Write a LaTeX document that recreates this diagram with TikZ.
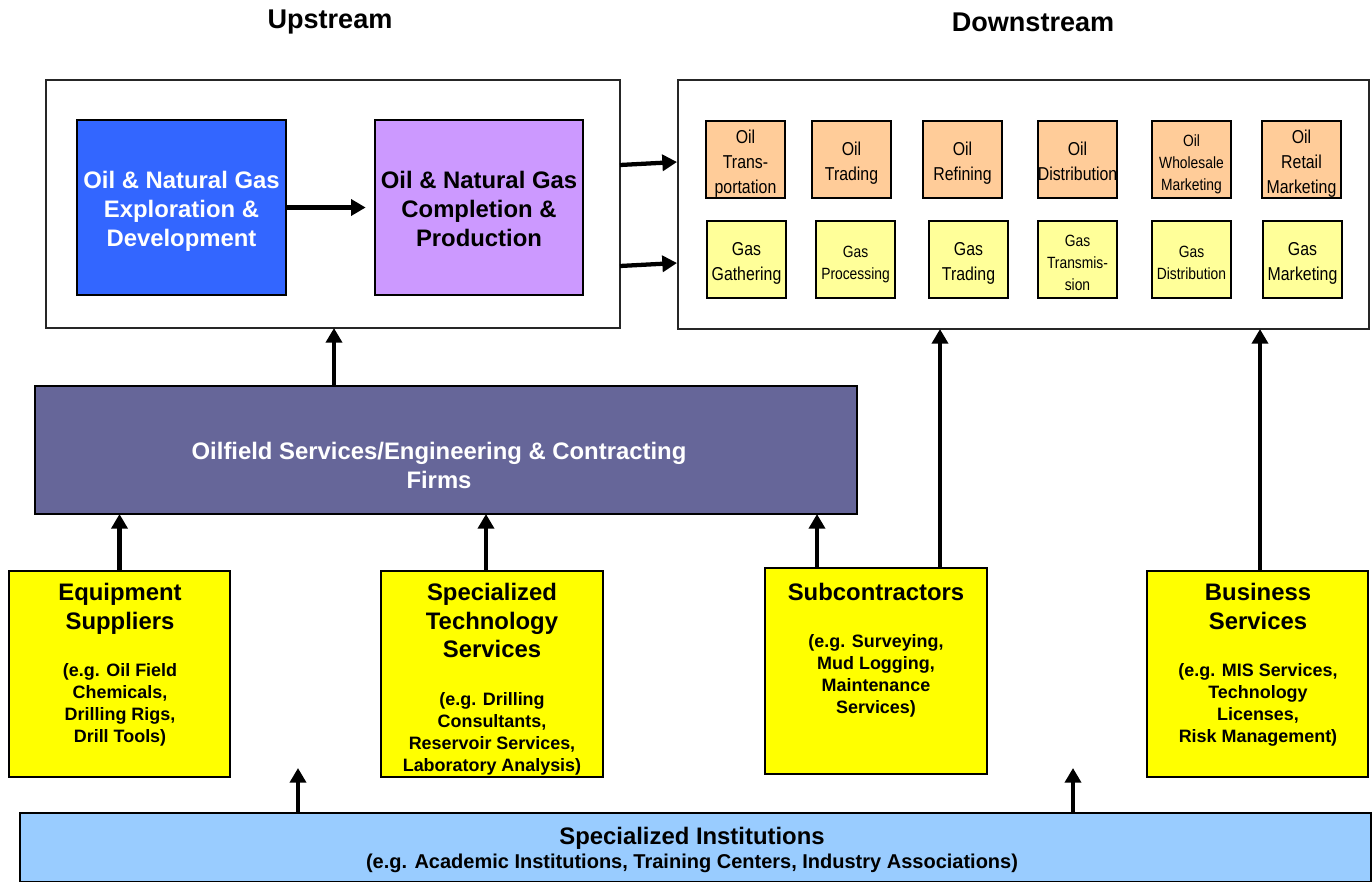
\documentclass[tikz,border=0pt]{standalone}
\usepackage{fontspec}
\setmainfont{Liberation Sans}
\newfontfamily\narrowfont[FakeStretch=0.85]{Liberation Sans}
\usetikzlibrary{arrows.meta,calc}
\definecolor{cblue}{HTML}{3366FF}
\definecolor{cpurple}{HTML}{CC99FF}
\definecolor{corange}{HTML}{FFCC99}
\definecolor{clighty}{HTML}{FFFF99}
\definecolor{cyellow}{HTML}{FFFF00}
\definecolor{csvc}{HTML}{666699}
\definecolor{cinst}{HTML}{99CCFF}
% struts: first-line height (with a small downward offset) and last-line depth
\newcommand\fsn{\rule{0pt}{1.18em}}
\newcommand\fss{\rule{0pt}{1.34em}}
\newcommand\fsb{\rule{0pt}{1.09em}}
\newcommand\lst{\rule[-0.25em]{0pt}{0.25em}}
\begin{document}
\begin{tikzpicture}[x=0.75pt,y=-0.75pt,
  every node/.style={inner sep=0pt, outer sep=0pt},
  box/.style 2 args={draw=black, line width=1.1pt, minimum width=#1*0.75pt, minimum height=#2*0.75pt, anchor=north west, align=center},
  frame/.style={draw=black!85, line width=1.5pt, fill=white},
  bigtxt/.style={font=\bfseries\fontsize{17.9}{21.4}\selectfont, align=center},
  subtxt/.style={font=\bfseries\fontsize{13.45}{16.5}\selectfont, align=center},
  insttxt/.style={font=\bfseries\fontsize{15}{18}\selectfont, align=center},
  titletxt/.style={font=\bfseries\fontsize{20.3}{24}\selectfont},
  oilbox/.style={box={79}{77}, fill=corange, font=\narrowfont\fontsize{14}{18.75}\selectfont},
  gasbox/.style={box={79}{77}, fill=clighty, font=\narrowfont\fontsize{14}{18.75}\selectfont},
  smallfont/.style={font=\narrowfont\fontsize{12.2}{16.5}\selectfont},
  arr/.style={line width=3.2pt, -{Triangle[width=12pt,length=11pt]}}
]
\useasboundingbox (0,0) rectangle (1372,882);

% titles
\node[titletxt] (tup) at (330,21.5) {Upstream};
\node[titletxt] (tdown) at (1033,22) {Downstream};

% upstream / downstream frames
\node[box={574}{248}, frame] (up) at (46,80) {};
\node[box={691}{249}, frame] (down) at (678,80) {};

% upstream content
\node[box={209}{175}, fill=cblue, bigtxt, text=white] (expl) at (77,120) {\fsb Oil \& Natural Gas\\Exploration \&\\Development\lst};
\node[box={208}{175}, fill=cpurple, bigtxt] (prod) at (375,120) {\fsb Oil \& Natural Gas\\Completion \&\\Production\lst};

% downstream oil boxes
\node[oilbox] (o1) at (706,121) {\fsn Oil\\Trans-\\portation\lst};
\node[oilbox] (o2) at (812,121) {\fsn Oil\\Trading\lst};
\node[oilbox] (o3) at (923,121) {\fsn Oil\\Refining\lst};
\node[oilbox] (o4) at (1038,121) {\fsn Oil\\\makebox[0pt]{Distribution}\lst};
\node[oilbox, smallfont] (o5) at (1152,121) {\fss Oil\\Wholesale\\Marketing\lst};
\node[oilbox] (o6) at (1262,121) {\fsn Oil\\Retail\\Marketing\lst};

% downstream gas boxes
\node[gasbox] (g1) at (707,221) {\fsn Gas\\Gathering\lst};
\node[gasbox, smallfont] (g2) at (816,221) {\fss Gas\\Processing\lst};
\node[gasbox] (g3) at (929,221) {\fsn Gas\\Trading\lst};
\node[gasbox, smallfont] (g4) at (1038,221) {\fss Gas\\Transmis-\\sion\lst};
\node[gasbox, smallfont] (g5) at (1152,221) {\fss Gas\\Distribution\lst};
\node[gasbox] (g6) at (1263,221) {\fsn Gas\\Marketing\lst};

% services
\node[box={822}{128}, fill=csvc] (svc) at (35,386) {};
\node[bigtxt, text=white] (svct) at (439,465.5) {Oilfield Services/Engineering \& Contracting\\Firms};

% yellow boxes
\node[box={221}{206}, fill=cyellow] (eq) at (9,571) {};
\node[box={222}{206}, fill=cyellow] (spec) at (381,571) {};
\node[box={222}{206}, fill=cyellow] (sub) at (765,568) {};
\node[box={221}{206}, fill=cyellow] (bus) at (1147,571) {};

\node[bigtxt, anchor=north] (eqt) at (120,583.6) {Equipment\\Suppliers};
\node[subtxt, anchor=north] (eqs) at (120,663.5) {(e.g. Oil Field\\Chemicals,\\Drilling Rigs,\\Drill Tools)};
\node[bigtxt, anchor=north] (spect) at (492,583.6) {Specialized\\Technology\\Services};
\node[subtxt, anchor=north] (specs) at (492,692.5) {(e.g. Drilling\\Consultants,\\Reservoir Services,\\Laboratory Analysis)};
\node[bigtxt, anchor=north] (subt) at (876,583.6) {Subcontractors};
\node[subtxt, anchor=north] (subs) at (876,634.5) {(e.g. Surveying,\\Mud Logging,\\Maintenance\\Services)};
\node[bigtxt, anchor=north] (bust) at (1258,583.6) {Business\\Services};
\node[subtxt, anchor=north] (buss) at (1258,663.5) {(e.g. MIS Services,\\Technology\\Licenses,\\Risk Management)};

% institutions
\node[box={1351}{69}, fill=cinst] (inst) at (20,813) {};
\node[bigtxt] (instt) at (692,838.5) {Specialized Institutions};
\node[insttxt] (insts) at (692,863) {(e.g. Academic Institutions, Training Centers, Industry Associations)};

% helper x positions
\coordinate (x334) at (334,0);
\coordinate (x486) at (486,0);
\coordinate (x817) at (817,0);
\coordinate (x940) at (940,0);
\coordinate (x1260) at (1260,0);
\coordinate (f1) at (298,768);
\coordinate (f2) at (1073,768);

% arrows
\draw[arr, shorten >=7pt] (expl.east) -- (prod.west);
\draw[arr] ($(up.north east)+(0,85)$) -- ($(down.north west)+(-1,82)$);
\draw[arr] ($(up.north east)+(0,186)$) -- ($(down.north west)+(-1,183)$);
\draw[arr] (svc.north -| x334) -- (up.south -| x334);
\draw[arr] (eq.north) -- (svc.south -| eq.north);
\draw[arr] (spec.north -| x486) -- (svc.south -| x486);
\draw[arr] (sub.north -| x817) -- (svc.south -| x817);
\draw[arr] (sub.north -| x940) -- (down.south -| x940);
\draw[arr] (bus.north -| x1260) -- (down.south -| x1260);
\draw[arr] (inst.north -| f1) -- (f1);
\draw[arr] (inst.north -| f2) -- (f2);
\end{tikzpicture}
\end{document}
